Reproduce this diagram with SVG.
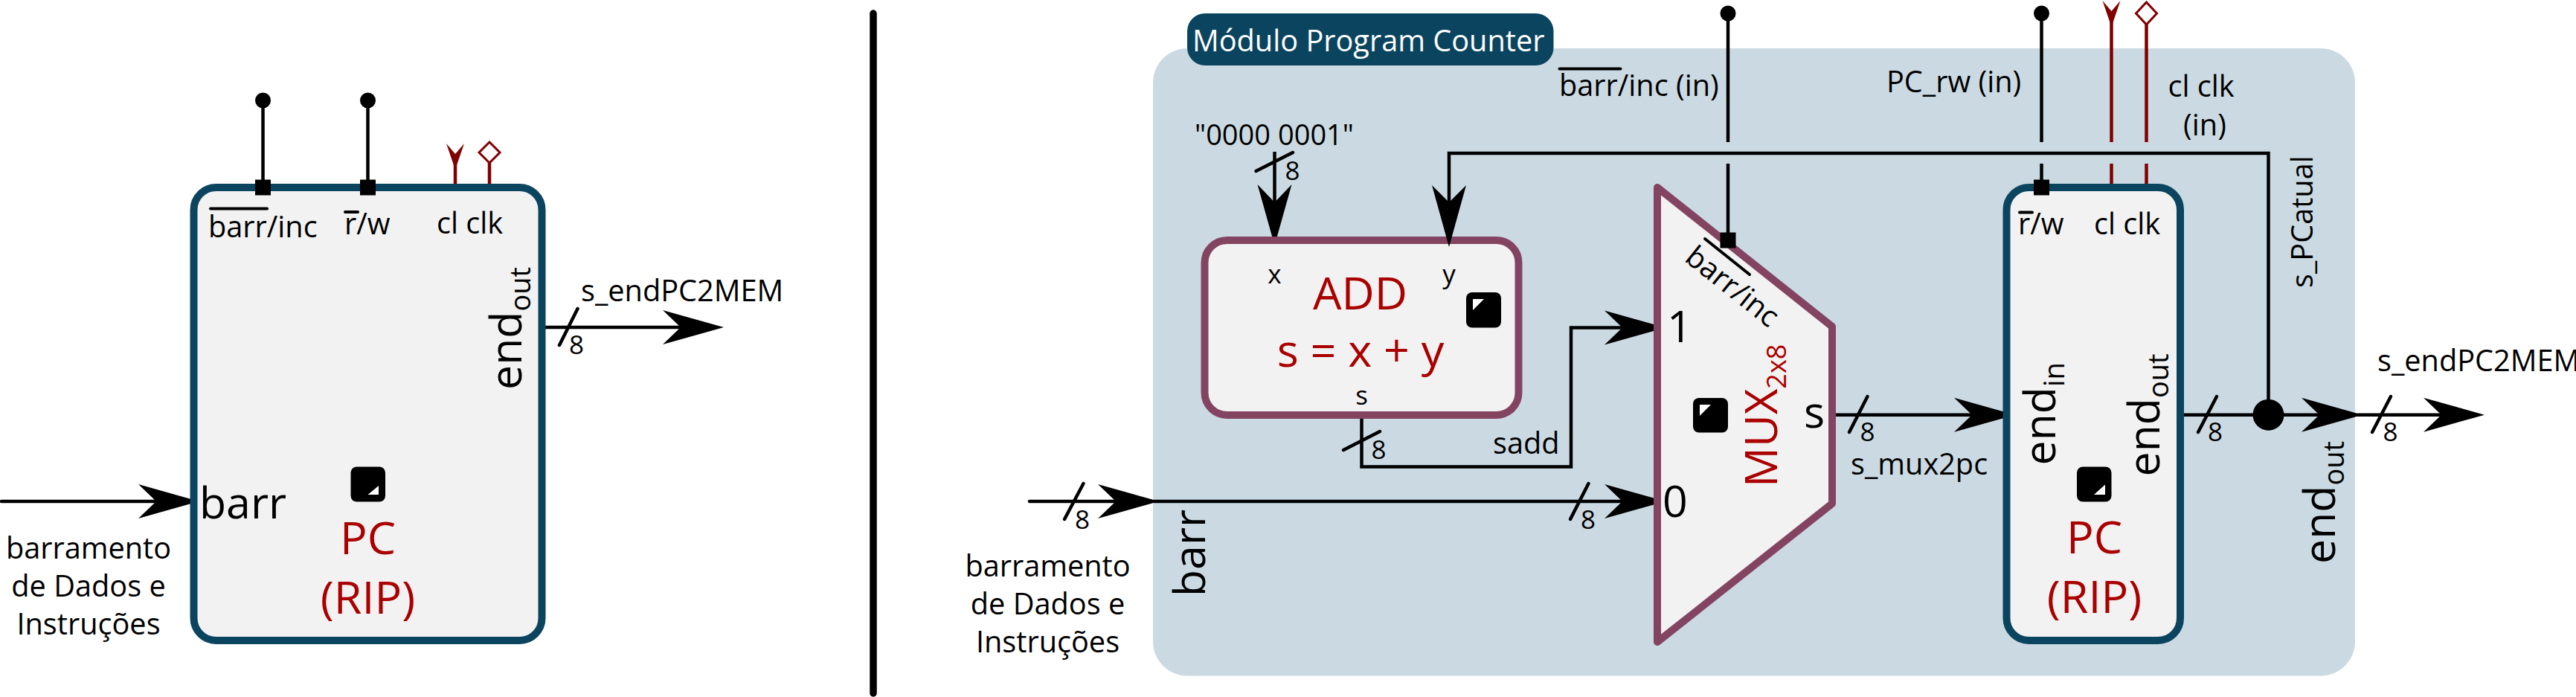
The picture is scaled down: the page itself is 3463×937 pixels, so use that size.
<svg xmlns="http://www.w3.org/2000/svg" width="3463" height="937" viewBox="0 0 3463 937">
<style>
text{font-family:"Open Sans","Noto Sans","Liberation Sans",sans-serif;fill:#000}
.t{font-size:39.7px}
.m{text-anchor:middle}
.n{font-size:35px;text-anchor:middle}
.b{font-size:59px}
.sub{font-size:38px}
.r{font-size:61px;fill:#a00;text-anchor:middle}
.w{stroke:#000;stroke-width:4.5;fill:none}
.c{stroke:#800000;stroke-width:4.5;fill:none}
.tick{stroke:#000;stroke-width:4.5;fill:none;stroke-linecap:round}
.over{stroke:#000;stroke-width:4;fill:none;stroke-linecap:round}
.a{marker-end:url(#arrow)}
.pc{fill:#f2f2f2;stroke:#0b445f;stroke-width:10}
.fn{fill:#f2f2f2;stroke:#834462;stroke-width:10;stroke-linejoin:round}
.pin{fill:#000}
.tri{fill:#fff}
.ic{fill:#000}
.dia{fill:#fff;stroke:#800000;stroke-width:3}
</style>
<defs>
<marker id="arrow" markerUnits="userSpaceOnUse" markerWidth="84" markerHeight="48" viewBox="0 -24 84 48" refX="24" refY="0" orient="auto" overflow="visible"><path d="M0,-23L82,0L0,23L24,0Z" fill="#000"/></marker>
<marker id="dot" markerUnits="userSpaceOnUse" markerWidth="24" markerHeight="24" viewBox="-12 -12 24 24" refX="0" refY="0"><circle r="10.500" fill="#000"/></marker>
<marker id="redarrow" markerUnits="userSpaceOnUse" markerWidth="40" markerHeight="26" viewBox="0 -13 40 26" refX="14" refY="0" orient="90" overflow="visible"><path d="M0,-12L35,0L0,12L14,0Z" fill="#800000"/></marker>
</defs>

<line id="divider" x1="1174" y1="18" x2="1174" y2="932" stroke="#000" stroke-width="9.500" stroke-linecap="round"/>

<g id="modulo-bg">
<rect x="1550" y="65" width="1616" height="843.500" rx="46" fill="#cbdae2"/>
</g>

<g id="connectors">
<line class="w" x1="353.500" y1="135" x2="353.500" y2="252" marker-start="url(#dot)"/>
<line class="w" x1="494.500" y1="135" x2="494.500" y2="252" marker-start="url(#dot)"/>
<path class="c" d="M612,207V250" marker-start="url(#redarrow)"/>
<path class="c" d="M658,218V250"/>
<path class="dia" d="M658,191L672,205L658,219L644,205Z"/>
<path class="w a" stroke-linecap="round" d="M2,674H210"/>
<path class="w a" d="M733,440H915"/>
<line class="tick" x1="752" y1="464" x2="776.500" y2="415"/>
<path class="w a" stroke-linecap="round" d="M1384,674H1500"/>
<line class="tick" x1="1431" y1="698" x2="1456.500" y2="650"/>
<path class="w a" d="M1551,674H2181"/>
<line class="tick" x1="2111" y1="698" x2="2135.500" y2="650"/>
<path class="w a" d="M1713.500,204V272"/>
<line class="tick" x1="1688.500" y1="230" x2="1738" y2="205"/>
<path class="w" d="M3049.500,558V206H1948V272"/>
<path class="w a" d="M1830.500,560V627.500H2112V440.500H2181"/>
<line class="tick" x1="1806" y1="605" x2="1855" y2="580"/>
<path class="w a" d="M2463,557.700H2651"/>
<line class="tick" x1="2486" y1="581" x2="2510.500" y2="533"/>
<path class="w a" d="M2935,557.700H3118"/>
<line class="tick" x1="2955" y1="581" x2="2980" y2="533"/>
<path class="w a" d="M3169,557.700H3282"/>
<line class="tick" x1="3189" y1="581" x2="3214" y2="533"/>
<circle cx="3049.500" cy="557.700" r="21" fill="#000"/>
<line class="w" x1="2323" y1="18" x2="2323" y2="191" marker-start="url(#dot)"/>
<line class="w" x1="2323" y1="220" x2="2323" y2="323"/>
<line class="w" x1="2744.500" y1="18" x2="2744.500" y2="191" marker-start="url(#dot)"/>
<line class="w" x1="2744.500" y1="220" x2="2744.500" y2="252"/>
<path class="c" d="M2838.500,15V191" marker-start="url(#redarrow)"/>
<path class="c" d="M2838.500,220V250"/>
<path class="c" d="M2885.500,33V191"/>
<path class="c" d="M2885.500,220V250"/>
<path class="dia" d="M2885.500,3L2899.500,18L2885.500,33L2871.500,18Z"/>
</g>

<g id="pc-left">
<rect class="pc" x="260.500" y="252" width="468" height="609" rx="30"/>
<rect class="pin" x="343" y="241.500" width="21" height="21"/>
<rect class="pin" x="484" y="241.500" width="21" height="21"/>
<text class="t" x="280" y="319">barr/inc</text>
<line class="over" x1="283" y1="280.500" x2="359" y2="280.500"/>
<text class="t" x="463" y="315">r/w</text>
<line class="over" x1="464" y1="285" x2="481" y2="285"/>
<text class="t" x="587" y="314">cl clk</text>
<text class="b" transform="translate(701,524) rotate(-90)">end<tspan class="sub" dy="12">out</tspan></text>
<text class="b" x="268" y="697">barr</text>
<rect class="ic" x="471.500" y="627.500" width="46.500" height="47" rx="8"/>
<path class="tri" d="M494.500,665H509V653Z"/>
<text class="r" x="494.500" y="745">PC</text>
<text class="r" x="494.500" y="824.500">(RIP)</text>
</g>
<g id="label-left">
<text class="t m" x="119" y="750.500">barramento</text>
<text class="t m" x="119" y="801.500">de Dados e</text>
<text class="t m" x="119" y="852.500">Instruções</text>
<text class="t" x="781" y="404.500">s_endPC2MEM</text>
<text class="n" x="775" y="476">8</text>
</g>

<g id="titulo">
<rect x="1596" y="18" width="492.500" height="70" rx="24" fill="#0b445f"/>
<text x="1603" y="69" style="fill:#fff;font-size:39.700px">Módulo Program Counter</text>
</g>

<g id="add">
<rect class="fn" x="1619.500" y="323" width="422" height="235" rx="30"/>
<text class="n" x="1713.500" y="381">x</text>
<text class="n" x="1948" y="381">y</text>
<text class="n" x="1830.500" y="544">s</text>
<text class="r" x="1828.500" y="415.500">ADD</text>
<text class="r" x="1829" y="493">s = x + y</text>
<rect class="ic" x="1971" y="393" width="47" height="47.500" rx="8"/>
<path class="tri" d="M1980,402H1995L1980,417Z"/>
</g>

<g id="mux">
<path class="fn" d="M2228,252L2463,439V677L2228,863Z"/>
<rect class="pin" x="2312.500" y="312.500" width="21" height="21"/>
<text class="t" transform="translate(2263,350) rotate(38.500)">barr/inc</text>
<line class="over" x1="2292" y1="321" x2="2352" y2="369"/>
<text class="b" x="2241" y="460">1</text>
<text class="b" x="2235" y="695">0</text>
<text class="b" x="2425" y="575">s</text>
<rect class="ic" x="2276" y="535" width="47" height="46.500" rx="8"/>
<path class="tri" d="M2285,544H2300L2285,559Z"/>
<text class="r" transform="translate(2389,655) rotate(-90)" style="text-anchor:start;font-size:60px">MUX<tspan dy="12" style="fill:#a00;font-size:36px">2x8</tspan></text>
</g>

<g id="pc-right">
<rect class="pc" x="2697.500" y="252" width="233.500" height="609" rx="30"/>
<rect class="pin" x="2734" y="241.500" width="21" height="21"/>
<text class="t" x="2713" y="315">r/w</text>
<line class="over" x1="2715" y1="285.500" x2="2732" y2="285.500"/>
<text class="t" x="2815" y="315">cl clk</text>
<text class="b" transform="translate(2762.500,625.500) rotate(-90)">end<tspan class="sub" dy="12">in</tspan></text>
<text class="b" transform="translate(2903,640.500) rotate(-90)">end<tspan class="sub" dy="12">out</tspan></text>
<rect class="ic" x="2792" y="627.500" width="46.500" height="47" rx="8"/>
<path class="tri" d="M2815,665H2830V651.500Z"/>
<text class="r" x="2815.500" y="744">PC</text>
<text class="r" x="2815.500" y="823.500">(RIP)</text>
</g>

<g id="y-arrow-tip">
<path d="M1925,249L1948,332L1971,249L1948,272Z" fill="#000"/>
</g>

<g id="labels">
<text class="t" x="2096" y="128.500">barr/inc (in)</text>
<line class="over" x1="2096.500" y1="92.500" x2="2178.500" y2="92.500"/>
<text class="t m" x="1713" y="195" style="font-size:38px">"0000 0001"</text>
<text class="n" x="1737.500" y="241.500">8</text>
<text class="t" x="2007" y="609.500">sadd</text>
<text class="n" x="1853.500" y="617">8</text>
<text class="n" x="1455" y="711">8</text>
<text class="n" x="2135" y="711">8</text>
<text class="b" transform="translate(1620,802) rotate(-90)">barr</text>
<text class="t m" x="1408.500" y="775">barramento</text>
<text class="t m" x="1408.500" y="826">de Dados e</text>
<text class="t m" x="1408.500" y="877">Instruções</text>
<text class="n" x="2510.500" y="593">8</text>
<text class="t" x="2488" y="638">s_mux2pc</text>
<text class="t" x="2536" y="123.500">PC_rw (in)</text>
<text class="t m" x="2959" y="130">cl clk</text>
<text class="t m" x="2964" y="182">(in)</text>
<text class="t" transform="translate(3108.500,387) rotate(-90)">s_PCatual</text>
<text class="n" x="2978" y="593">8</text>
<text class="n" x="3213.500" y="593">8</text>
<text class="t" x="3196" y="499">s_endPC2MEM</text>
<text class="b" transform="translate(3139,758) rotate(-90)">end<tspan class="sub" dy="12">out</tspan></text>
</g>
</svg>
